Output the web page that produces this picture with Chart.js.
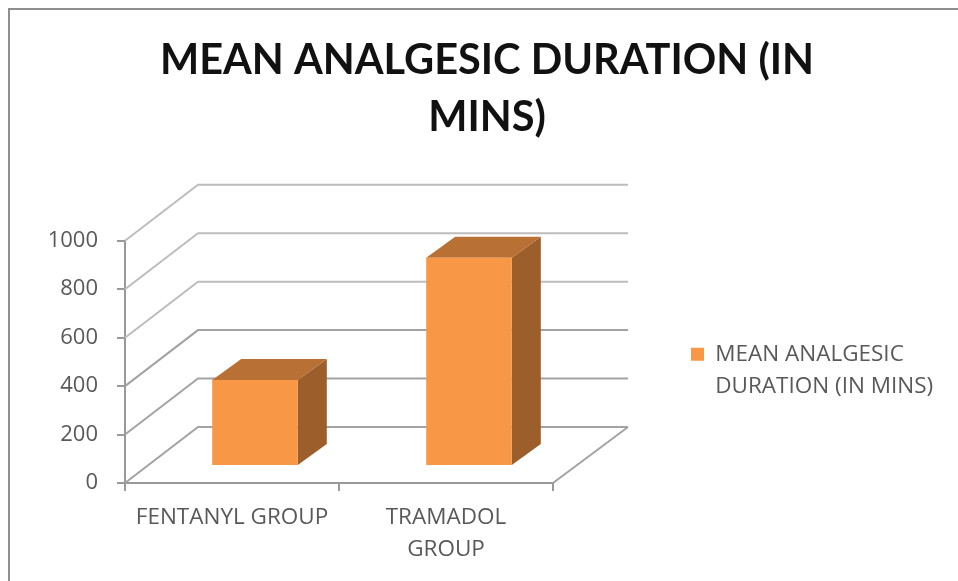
<!DOCTYPE html>
<html>
<head>
<meta charset="utf-8">
<title>Mean analgesic duration</title>
<script src="https://cdn.jsdelivr.net/npm/chart.js@4/dist/chart.umd.min.js"></script>
<style>
    html, body { margin: 0; padding: 0; background: #fff; }
    #wrap { position: relative; width: 958px; height: 581px; overflow: hidden; }
    #frame { position: absolute; left: 8px; top: 8px; width: 958px; height: 581px; border: 2px solid #8f8f8f; box-sizing: border-box; }
    canvas { position: absolute; left: 0; top: 0; }
</style>
</head>
<body>
<div id="wrap">
    <div id="frame"></div>
    <canvas id="chart" width="958" height="581"></canvas>
</div>
<script>
// Chart data
const categories = ['FENTANYL GROUP', ['TRAMADOL', 'GROUP']];
const durations = [355, 860];
const seriesName = 'MEAN ANALGESIC DURATION (IN MINS)';
const legendLines = ['MEAN ANALGESIC', 'DURATION (IN MINS)'];
const titleLines = ['MEAN ANALGESIC DURATION (IN', 'MINS)'];
const axisMax = 1000;
const axisStep = 200;

// Fake 3D look: walls behind the plot, bars pushed into the floor
const wallDepth = { x: 73, y: -56 };
const barShift = { x: 23, y: -17 };
const barDepth = { x: 29, y: -21 };

const walls3d = {
    id: 'walls3d',
    beforeDatasetsDraw(chart) {
        const { ctx, chartArea, scales } = chart;
        ctx.save();
        ctx.lineWidth = 2;
        scales.y.ticks.forEach(tick => {
            const y = scales.y.getPixelForValue(tick.value);
            ctx.strokeStyle = tick.value >= 600 ? '#bdbdbd' : '#a3a3a3';
            ctx.beginPath();
            ctx.moveTo(chartArea.left, y);
            ctx.lineTo(chartArea.left + wallDepth.x, y + wallDepth.y);
            ctx.lineTo(chartArea.right + wallDepth.x + 2, y + wallDepth.y);
            ctx.stroke();
        });
        // right edge of the floor
        const bottom = scales.y.getPixelForValue(0);
        ctx.strokeStyle = '#a3a3a3';
        ctx.beginPath();
        ctx.moveTo(chartArea.right, bottom);
        ctx.lineTo(chartArea.right + wallDepth.x + 2, bottom + wallDepth.y);
        ctx.stroke();
        ctx.restore();
    },
    beforeDatasetDraw(chart, args) {
        const { ctx } = chart;
        ctx.save();
        ctx.translate(barShift.x, barShift.y);
        chart.getDatasetMeta(args.index).data.forEach(bar => {
            const left = bar.x - bar.width / 2;
            const right = bar.x + bar.width / 2;
            // side face
            ctx.fillStyle = '#9c5f2b';
            ctx.beginPath();
            ctx.moveTo(right, bar.y);
            ctx.lineTo(right + barDepth.x, bar.y + barDepth.y);
            ctx.lineTo(right + barDepth.x, bar.base + barDepth.y);
            ctx.lineTo(right, bar.base);
            ctx.closePath();
            ctx.fill();
            // top face
            ctx.fillStyle = '#b97034';
            ctx.beginPath();
            ctx.moveTo(left, bar.y);
            ctx.lineTo(left + barDepth.x, bar.y + barDepth.y);
            ctx.lineTo(right + barDepth.x, bar.y + barDepth.y);
            ctx.lineTo(right, bar.y);
            ctx.closePath();
            ctx.fill();
        });
    },
    afterDatasetDraw(chart) {
        chart.ctx.restore();
    },
    afterLayout(chart) {
        // legend sits well right of the plot, title centres on the whole frame
        const legend = chart.legend;
        legend.left = 678;
        legend.right = 958;
        legend.width = 280;
        legend.top = 330;
        legend.bottom = 420;
        legend.height = 90;
        const title = chart.titleBlock;
        title.left = 16;
        title.right = 958;
        title.width = 942;
    }
};

new Chart(document.getElementById('chart'), {
    type: 'bar',
    data: {
        labels: categories,
        datasets: [{
            label: seriesName,
            data: durations,
            backgroundColor: '#f89746',
            barPercentage: 0.4,
            categoryPercentage: 1
        }]
    },
    options: {
        responsive: false,
        animation: false,
        layout: { padding: { left: 16, right: 205, top: 0, bottom: 0 } },
        plugins: {
            title: {
                display: true,
                text: titleLines,
                color: '#111',
                font: { family: 'Lato', size: 41.5, weight: '700', lineHeight: 1.383 },
                padding: { top: 32, bottom: 94 }
            },
            legend: {
                position: 'right',
                align: 'start',
                maxWidth: 200,
                labels: {
                    boxWidth: 13,
                    boxHeight: 13,
                    padding: 13,
                    color: '#595959',
                    font: { family: 'Open Sans', size: 22.5, lineHeight: 1.42 },
                    generateLabels(chart) {
                        const items = Chart.defaults.plugins.legend.labels.generateLabels(chart);
                        items[0].text = legendLines;
                        return items;
                    }
                }
            },
            tooltip: { enabled: false }
        },
        scales: {
            x: {
                afterFit(scale) { scale.height = 98; },
                grid: { drawOnChartArea: false, color: '#999', lineWidth: 2, tickLength: 8 },
                border: { color: '#999', width: 2 },
                ticks: {
                    color: '#595959',
                    padding: 11,
                    maxRotation: 0,
                    font: { family: 'Open Sans', size: 22.5, lineHeight: 1.42 }
                }
            },
            y: {
                min: 0,
                max: axisMax,
                afterFit(scale) { scale.width = 109; },
                grid: { drawOnChartArea: false, color: '#999', lineWidth: 2, tickLength: 8 },
                border: { color: '#999', width: 2 },
                ticks: {
                    stepSize: axisStep,
                    color: '#595959',
                    padding: 19,
                    callback: value => String(value),
                    font: { family: 'Open Sans', size: 22 }
                }
            }
        }
    },
    plugins: [walls3d]
});
</script>
</body>
</html>
